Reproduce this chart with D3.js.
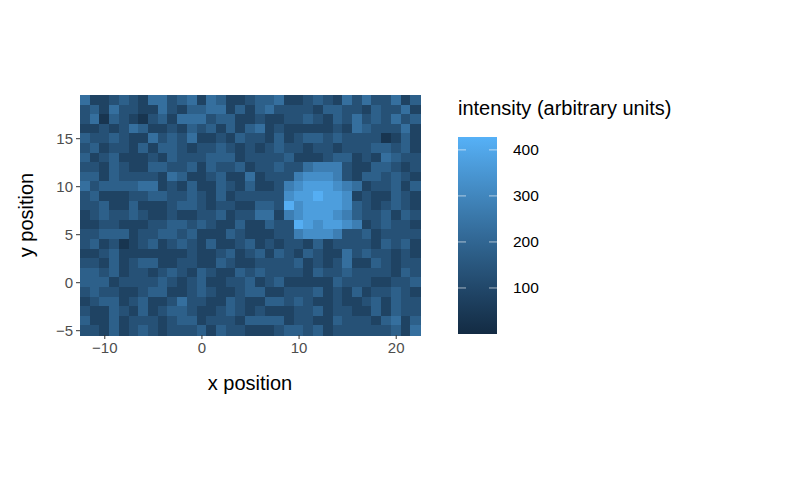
<!DOCTYPE html>
<html><head><meta charset="utf-8">
<script src="https://cdn.jsdelivr.net/npm/d3@7"></script>
<style>body{margin:0;background:#fff}text{font-family:"Liberation Sans",Arial,sans-serif}</style>
</head><body><div id="chart"></div>
<script>
// x centers -12..22, y centers 19 (top) .. -5 (bottom)
const xValues = d3.range(-12, 23);
const yValues = d3.range(19, -6, -1);
// intensity levels per cell (0-9)
const rows = [
  "52234325534525422344522343253533524",
  "34253322532445524245333324433243352",
  "35143213425553442232233432435343534",
  "22323542232434242452322222325433352",
  "43343225343522324332423443433331242",
  "34233242443233432323433233233344342",
  "42342223243334442333342223442325433",
  "33243224433424334233433566632244323",
  "44243333254223422523336777632443432",
  "53444455232422432422367888765233424",
  "34222334433432423333378898872322432",
  "33422422234432332244397888874323432",
  "23433432232233423355267888764334243",
  "22332223344343224224339878876234332",
  "33444233443422243222336777633423333",
  "34231234234324223423233242333324342",
  "22342222222322342342432432253433232",
  "33242344223322432233334232352243233",
  "44342332343243224343333243343333243",
  "44423333432342233423422222433322334",
  "34332234422343223442233342324233432",
  "23442342235332243224434322322342433",
  "32243242344322343232223342332242433",
  "42242333234423332444423322433324524",
  "33242343233342433222344342333333425"
];
const cells = [];
rows.forEach((r, i) => r.split("").forEach((c, j) =>
  cells.push({x: xValues[j], y: yValues[i], v: Math.max(5, +c * 48 - 12)})));
const xTicks = [-10, 0, 10, 20];
const yTicks = [-5, 0, 5, 10, 15];
const legendTicks = [100, 200, 300, 400];

const svg = d3.select("#chart").append("svg").attr("width", 799).attr("height", 494);
const x = d3.scaleLinear().domain([-12.5, 22.5]).range([80, 420]);
const y = d3.scaleLinear().domain([-5.5, 19.5]).range([335, 95]);
const color = d3.scaleLinear().domain([0, 428]).range(["#132B43", "#56B1F7"]).interpolate(d3.interpolateLab);

svg.append("g").attr("shape-rendering", "crispEdges")
  .selectAll("rect").data(cells).enter().append("rect")
  .attr("x", d => x(d.x - 0.5)).attr("y", d => y(d.y + 0.5))
  .attr("width", x(1) - x(0) + 0.5).attr("height", y(0) - y(1) + 0.5)
  .attr("fill", d => color(d.v));

const xa = svg.append("g").attr("transform", "translate(0,335)")
  .call(d3.axisBottom(x).tickValues(xTicks).tickSize(4).tickPadding(3));
const ya = svg.append("g").attr("transform", "translate(80,0)")
  .call(d3.axisLeft(y).tickValues(yTicks).tickSize(4).tickPadding(3));
[xa, ya].forEach(a => {
  a.select(".domain").remove();
  a.selectAll("line").attr("stroke", "#333");
  a.selectAll("text").attr("fill", "#4d4d4d").style("font-size", "15px");
});

svg.append("text").attr("x", 250).attr("y", 390).attr("text-anchor", "middle")
  .style("font-size", "20px").text("x position");
svg.append("text").attr("transform", "translate(33,215) rotate(-90)").attr("text-anchor", "middle")
  .style("font-size", "20px").text("y position");

// legend
const lg = svg.append("defs").append("linearGradient").attr("id", "lg")
  .attr("x1", 0).attr("y1", 1).attr("x2", 0).attr("y2", 0);
d3.range(0, 1.01, 0.1).forEach(t => lg.append("stop").attr("offset", t).attr("stop-color", color(t * 428)));
const ly = d3.scaleLinear().domain([0, 428]).range([334, 137]);
svg.append("rect").attr("x", 458).attr("y", 137).attr("width", 39).attr("height", 197).attr("fill", "url(#lg)");
const lt = svg.append("g");
legendTicks.forEach(t => {
  lt.append("line").attr("x1", 458).attr("x2", 466).attr("y1", ly(t)).attr("y2", ly(t)).attr("stroke", "#fff").attr("opacity", 0.6);
  lt.append("line").attr("x1", 489).attr("x2", 497).attr("y1", ly(t)).attr("y2", ly(t)).attr("stroke", "#fff").attr("opacity", 0.6);
  lt.append("text").attr("x", 513).attr("y", ly(t) + 5.5).style("font-size", "15.5px").text(t);
});
svg.append("text").attr("x", 458).attr("y", 115).style("font-size", "20px").text("intensity (arbitrary units)");
</script></body></html>
